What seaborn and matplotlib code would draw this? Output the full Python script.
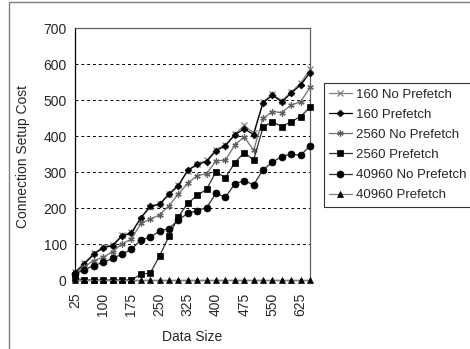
import numpy as np
import pandas as pd
import seaborn as sns
import matplotlib
matplotlib.use("Agg")
import matplotlib.pyplot as plt
from matplotlib.patches import Rectangle

# ---- data ----
data_size = [25, 50, 75, 100, 125, 150, 175, 200, 225, 250, 275, 300, 325,
             350, 375, 400, 425, 450, 475, 500, 525, 550, 575, 600, 625, 650]
tick_labels = [25, 100, 175, 250, 325, 400, 475, 550, 625]

s160_noprefetch = [22, 48, 74, 92, 98, 124, 133, 170, 203, 212, 240, 265, 303,
                   323, 332, 362, 376, 405, 430, 408, 495, 516, 498, 522, 547, 585]
s160_prefetch = [20, 45, 71, 90, 95, 122, 130, 173, 205, 210, 238, 262, 305,
                 321, 329, 359, 373, 403, 420, 404, 492, 513, 495, 519, 542, 576]
s2560_noprefetch = [15, 37, 54, 63, 79, 100, 114, 157, 169, 181, 206, 239, 269,
                    290, 295, 331, 333, 375, 398, 360, 449, 468, 465, 486, 495, 535]
s2560_prefetch = [5, 0, 0, 0, 0, 0, 0, 16, 19, 67, 122, 176, 213,
                  235, 252, 301, 284, 326, 354, 333, 424, 440, 426, 440, 454, 480]
s40960_noprefetch = [17, 28, 40, 49, 60, 72, 85, 111, 119, 136, 143, 167, 185,
                     193, 201, 241, 230, 267, 276, 264, 306, 327, 343, 350, 346, 373]
s40960_prefetch = [0] * 26

series_names = ["160 No Prefetch", "160 Prefetch", "2560 No Prefetch",
                "2560 Prefetch", "40960 No Prefetch", "40960 Prefetch"]
series_values = [s160_noprefetch, s160_prefetch, s2560_noprefetch,
                 s2560_prefetch, s40960_noprefetch, s40960_prefetch]

df = pd.DataFrame({
    "Data Size": np.tile(data_size, len(series_names)),
    "Cost": np.concatenate(series_values),
    "Series": np.repeat(series_names, len(data_size)),
})

# ---- style ----
sns.set_style("white")
plt.rcParams["font.family"] = ["Liberation Sans", "DejaVu Sans"]

styles = {
    "160 No Prefetch":   dict(color="#808080", marker="x", ms=4.0, mfc="#808080", mec="#808080", mew=0.9),
    "160 Prefetch":      dict(color="#000000", marker="D", ms=3.5, mfc="black", mec="black", mew=0.5),
    "2560 No Prefetch":  dict(color="#707070", marker=(6, 2, 0), ms=4.5, mfc="#606060", mec="#606060", mew=0.9),
    "2560 Prefetch":     dict(color="#303030", marker="s", ms=5, mfc="black", mec="black", mew=0.5),
    "40960 No Prefetch": dict(color="#303030", marker="o", ms=5, mfc="black", mec="black", mew=0.5),
    "40960 Prefetch":    dict(color="#808080", marker="^", ms=4.5, mfc="black", mec="black", mew=0.5),
}

fig = plt.figure(figsize=(4.70, 3.49), dpi=100)
ax = fig.add_axes([75 / 470, 1 - 280 / 349, 235 / 470, 252 / 349])

for name in series_names:
    st = styles[name]
    sub = df[df["Series"] == name]
    sns.lineplot(data=sub, x="Data Size", y="Cost", ax=ax, color=st["color"],
                 marker=st["marker"], markersize=st["ms"],
                 markerfacecolor=st["mfc"], markeredgecolor=st["mec"],
                 markeredgewidth=st["mew"], linewidth=0.9, label=name,
                 clip_on=False, zorder=3)

ax.set_xlim(25, 650)
ax.set_ylim(0, 700)
ax.set_yticks(range(0, 701, 100))
ax.set_xticks(tick_labels)
ax.set_xticklabels([str(t) for t in tick_labels], rotation=90)
ax.tick_params(axis="both", labelsize=10, length=3, width=0.8, color="black",
               direction="out", pad=3)
ax.tick_params(axis="x", length=0, pad=9)

for y in range(100, 700, 100):
    ax.axhline(y, color="black", lw=0.7, ls=(0, (3, 3)), zorder=1)

for side in ["left", "bottom"]:
    ax.spines[side].set_color("black")
    ax.spines[side].set_linewidth(0.9)
for side in ["top", "right"]:
    ax.spines[side].set_color("#606060")
    ax.spines[side].set_linewidth(0.9)

ax.set_xlabel("Data Size", fontsize=10, va="center")
ax.set_ylabel("Connection Setup Cost", fontsize=10, va="center")
ax.xaxis.set_label_coords(0.5, -0.226)
ax.yaxis.set_label_coords(-0.221, 0.49)

handles, labels = ax.get_legend_handles_labels()
ax.get_legend().remove()
leg = fig.legend(handles, labels, loc="upper left",
                 bbox_to_anchor=(324 / 470, 1 - 83 / 349),
                 fontsize=9.5, frameon=True, fancybox=False, shadow=False,
                 borderaxespad=0, borderpad=0.4, labelspacing=0.6,
                 handlelength=1.7, handletextpad=0.3)
leg.get_frame().set_edgecolor("black")
leg.get_frame().set_linewidth(0.8)

# outer chart-area frame
fig.patches.append(Rectangle((9 / 470, -0.1), 1.2, 1.1 - 1.5 / 349,
                             transform=fig.transFigure, fill=False,
                             edgecolor="#808080", lw=1.0))

fig.savefig("out.png", dpi=100)
